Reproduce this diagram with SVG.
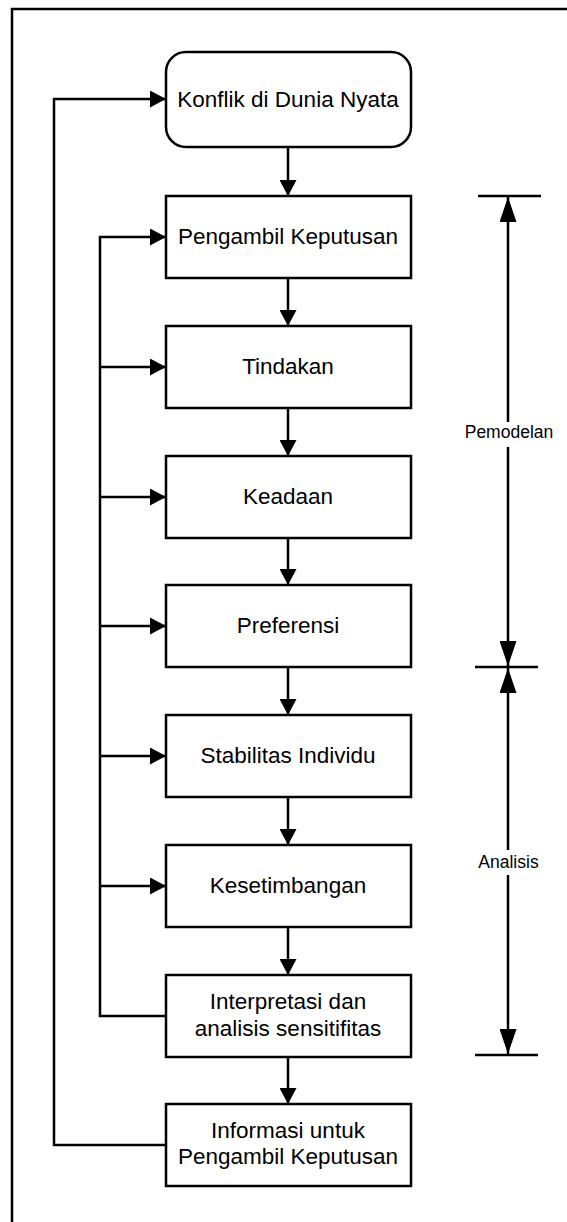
<svg xmlns="http://www.w3.org/2000/svg" width="567" height="1222" viewBox="0 0 567 1222">
<defs>
<style>
.n{fill:#fff;stroke:#000;stroke-width:2.5}
.t{font-family:"Liberation Sans",Arial,sans-serif;font-size:22.5px;fill:#000;text-anchor:middle}
.s{font-family:"Liberation Sans",Arial,sans-serif;font-size:17.5px;fill:#000;text-anchor:middle}
.c{fill:none;stroke:#000;stroke-width:2.5}
.b{fill:none;stroke:#000;stroke-width:2.5}
</style>
<marker id="a" markerWidth="16" markerHeight="17" refX="16" refY="8.5" orient="auto" markerUnits="userSpaceOnUse">
<path d="M0,0 L16,8.5 L0,17 Z" fill="#000"/>
</marker>
<marker id="d" markerWidth="25" markerHeight="17" refX="25" refY="8.5" orient="auto" markerUnits="userSpaceOnUse">
<path d="M0,0 L25,8.5 L0,17 Z" fill="#000"/>
</marker>
</defs>
<rect x="12" y="9" width="600" height="1260" fill="none" stroke="#000" stroke-width="2.5"/>
<g id="connectors">
<path class="c" d="M288,147 V196" marker-end="url(#a)"/>
<path class="c" d="M288,278 V326" marker-end="url(#a)"/>
<path class="c" d="M288,408 V456" marker-end="url(#a)"/>
<path class="c" d="M288,538 V585" marker-end="url(#a)"/>
<path class="c" d="M288,667 V715" marker-end="url(#a)"/>
<path class="c" d="M288,797 V845" marker-end="url(#a)"/>
<path class="c" d="M288,927 V975" marker-end="url(#a)"/>
<path class="c" d="M288,1057 V1104" marker-end="url(#a)"/>
<path class="c" d="M166,1016 H100 V237 H166" marker-end="url(#a)"/>
<path class="c" d="M100,367 H166" marker-end="url(#a)"/>
<path class="c" d="M100,497 H166" marker-end="url(#a)"/>
<path class="c" d="M100,626 H166" marker-end="url(#a)"/>
<path class="c" d="M100,756 H166" marker-end="url(#a)"/>
<path class="c" d="M100,886 H166" marker-end="url(#a)"/>
<path class="c" d="M166,1145 H54 V99 H166" marker-end="url(#a)"/>
</g>
<g id="brackets">
<line class="b" x1="478" y1="196" x2="541" y2="196"/>
<line class="b" x1="475" y1="667" x2="538" y2="667"/>
<line class="b" x1="475" y1="1055" x2="538" y2="1055"/>
<path class="b" d="M508,432 V197" marker-end="url(#d)"/>
<path class="b" d="M508,432 V666" marker-end="url(#d)"/>
<path class="b" d="M508,861 V668" marker-end="url(#d)"/>
<path class="b" d="M508,861 V1054" marker-end="url(#d)"/>
<rect x="460" y="422" width="98" height="25" fill="#fff"/>
<rect x="474" y="850" width="70" height="25" fill="#fff"/>
<text class="s" x="509" y="438">Pemodelan</text>
<text class="s" x="508.5" y="868">Analisis</text>
</g>
<g id="n1"><rect class="n" x="166" y="52" width="245" height="95" rx="20"/><text class="t" x="288" y="107">Konflik di Dunia Nyata</text></g>
<g id="n2"><rect class="n" x="166" y="196" width="245" height="82"/><text class="t" x="288" y="244">Pengambil Keputusan</text></g>
<g id="n3"><rect class="n" x="166" y="326" width="245" height="82"/><text class="t" x="288" y="374">Tindakan</text></g>
<g id="n4"><rect class="n" x="166" y="456" width="245" height="82"/><text class="t" x="288" y="504">Keadaan</text></g>
<g id="n5"><rect class="n" x="166" y="585" width="245" height="82"/><text class="t" x="288" y="633">Preferensi</text></g>
<g id="n6"><rect class="n" x="166" y="715" width="245" height="82"/><text class="t" x="288" y="763">Stabilitas Individu</text></g>
<g id="n7"><rect class="n" x="166" y="845" width="245" height="82"/><text class="t" x="288" y="893">Kesetimbangan</text></g>
<g id="n8"><rect class="n" x="166" y="975" width="245" height="82"/><text class="t" x="288" y="1009">Interpretasi dan</text><text class="t" x="288" y="1036">analisis sensitifitas</text></g>
<g id="n9"><rect class="n" x="166" y="1104" width="245" height="82"/><text class="t" x="288" y="1138">Informasi untuk</text><text class="t" x="288" y="1164">Pengambil Keputusan</text></g>
</svg>
